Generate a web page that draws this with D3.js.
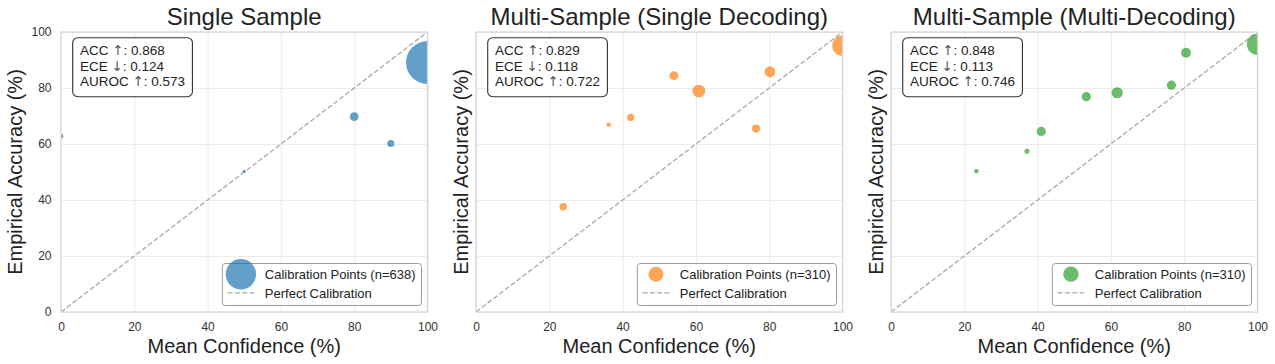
<!DOCTYPE html>
<html>
<head>
<meta charset="utf-8">
<script src="https://cdn.jsdelivr.net/npm/d3@7"></script>
<style>
  body { margin: 0; background: #fff; }
  svg { font-family: "Liberation Sans", Arial, sans-serif; }
</style>
</head>
<body>
<div id="chart"></div>
<script>
// values
const titles = ["Single Sample", "Multi-Sample (Single Decoding)", "Multi-Sample (Multi-Decoding)"];
const colors = ["#1f77b4", "#ff7f0e", "#2ca02c"];
const totals = [638, 310, 310];
const ticks = [0, 20, 40, 60, 80, 100];

const singleConf = [0, 50, 80, 90, 100];
const singleAcc = [62.8, 50.3, 69.8, 60.2, 89.1];
const singleCount = [7, 3, 24, 16, 588];

const sdConf = [23.8, 36.2, 42.2, 54.0, 60.8, 76.4, 80.2, 100];
const sdAcc = [37.6, 66.9, 69.5, 84.4, 78.9, 65.5, 85.8, 95.1];
const sdCount = [18, 6, 16, 25, 52, 21, 37, 135];

const mdConf = [23.3, 37.1, 41.0, 53.3, 61.7, 76.5, 80.5, 100];
const mdAcc = [50.3, 57.4, 64.5, 76.9, 78.3, 81.0, 92.6, 95.6];
const mdCount = [6, 8, 27, 27, 40, 27, 31, 144];

const statNames = ["ACC", "ECE", "AUROC"];
const statArrows = ["\u2191", "\u2193", "\u2191"];
const stats = [
    ["0.868", "0.124", "0.573"],
    ["0.829", "0.118", "0.722"],
    ["0.848", "0.113", "0.746"]
];

const panels = [
    { conf: singleConf, acc: singleAcc, count: singleCount },
    { conf: sdConf, acc: sdAcc, count: sdCount },
    { conf: mdConf, acc: mdAcc, count: mdCount }
];

const W = 1275, H = 364;
const plotLefts = [61, 476, 891];
const plotW = 366.5;
const plotTop = 32, plotBottom = 312;

const svg = d3.select("#chart").append("svg")
    .attr("width", W).attr("height", H);

// marker area proportional to count
const r = d3.scaleSqrt().domain([0, 600]).range([0, 21.7]);

panels.forEach((p, i) => {
    const left = plotLefts[i];
    const x = d3.scaleLinear().domain([0, 100]).range([left, left + plotW]);
    const y = d3.scaleLinear().domain([0, 100]).range([plotBottom, plotTop]);
    const g = svg.append("g");

    // grid
    g.append("g")
        .attr("transform", `translate(0,${plotBottom})`)
        .call(d3.axisBottom(x).tickValues(ticks).tickSize(-(plotBottom - plotTop)).tickFormat(""))
        .call(a => a.select(".domain").remove())
        .call(a => a.selectAll("line").attr("stroke", "#ebebeb").attr("stroke-width", 1));
    g.append("g")
        .attr("transform", `translate(${left},0)`)
        .call(d3.axisLeft(y).tickValues(ticks).tickSize(-plotW).tickFormat(""))
        .call(a => a.select(".domain").remove())
        .call(a => a.selectAll("line").attr("stroke", "#ebebeb").attr("stroke-width", 1));

    const clipId = "clip" + i;
    svg.append("clipPath").attr("id", clipId)
        .append("rect").attr("x", left).attr("y", plotTop).attr("width", plotW).attr("height", plotBottom - plotTop);

    const inner = g.append("g").attr("clip-path", `url(#${clipId})`);

    // perfect calibration diagonal
    inner.append("line")
        .attr("x1", x(0)).attr("y1", y(0)).attr("x2", x(100)).attr("y2", y(100))
        .attr("stroke", "#a8a8a8").attr("stroke-width", 1.3)
        .attr("stroke-dasharray", "5,2.3");

    inner.selectAll("circle")
        .data(p.conf.map((c, k) => ({ c: c, a: p.acc[k], n: p.count[k] })))
        .join("circle")
        .attr("cx", d => x(d.c))
        .attr("cy", d => y(d.a))
        .attr("r", d => r(d.n))
        .attr("fill", colors[i])
        .attr("fill-opacity", 0.7);

    // spines
    g.append("rect")
        .attr("x", left).attr("y", plotTop).attr("width", plotW).attr("height", plotBottom - plotTop)
        .attr("fill", "none").attr("stroke", "#d4d4d4").attr("stroke-width", 1.2);

    // tick labels
    g.append("g")
        .attr("transform", `translate(0,${plotBottom})`)
        .call(d3.axisBottom(x).tickValues(ticks).tickSize(0).tickPadding(10.5))
        .call(a => a.select(".domain").remove())
        .call(a => a.selectAll("text").attr("font-size", 12).attr("fill", "#333")
            .attr("font-family", "Liberation Sans, Arial, sans-serif"));
    if (i === 0) {
        g.append("g")
            .attr("transform", `translate(${left},0)`)
            .call(d3.axisLeft(y).tickValues(ticks).tickSize(0).tickPadding(9.5))
            .call(a => a.select(".domain").remove())
            .call(a => a.selectAll("text").attr("font-size", 12).attr("fill", "#333")
                .attr("font-family", "Liberation Sans, Arial, sans-serif"));
    }

    // title + axis labels
    g.append("text")
        .attr("x", left + plotW / 2).attr("y", 25)
        .attr("text-anchor", "middle").attr("font-size", 24).attr("fill", "#222")
        .text(titles[i]);
    g.append("text")
        .attr("x", left + plotW / 2).attr("y", 353)
        .attr("text-anchor", "middle").attr("font-size", 20).attr("fill", "#222")
        .text("Mean Confidence (%)");
    const ylx = i === 0 ? left - 39 : left - 8.4;
    g.append("text")
        .attr("transform", `translate(${ylx},${(plotTop + plotBottom) / 2}) rotate(-90)`)
        .attr("text-anchor", "middle").attr("font-size", 20).attr("fill", "#222")
        .text("Empirical Accuracy (%)");

    // stats box
    const sb = g.append("g");
    const sbRect = sb.append("rect");
    const sbText = sb.append("text").attr("font-size", 13.5).attr("fill", "#222");
    stats[i].forEach((s, k) => {
        sbText.append("tspan")
            .attr("x", left + 19).attr("y", plotTop + 23 + k * 15.5)
            .text(statNames[k] + " ");
        sbText.append("tspan")
            .attr("font-family", "DejaVu Sans").attr("fill", "#555")
            .text(statArrows[k]);
        sbText.append("tspan").text(": " + s);
    });
    const tw = sbText.node().getBBox().width;
    sbRect.attr("x", left + 11.7).attr("y", plotTop + 5.7)
        .attr("width", tw + 14.6).attr("height", 59)
        .attr("rx", 5).attr("fill", "#fff").attr("fill-opacity", 0.9)
        .attr("stroke", "#333").attr("stroke-width", 1.1);

    // legend
    const lg = g.append("g");
    const lgRect = lg.append("rect");
    const t1 = lg.append("text").attr("font-size", 13).attr("fill", "#222")
        .text(`Calibration Points (n=${totals[i]})`);
    const t2 = lg.append("text").attr("font-size", 13).attr("fill", "#222")
        .text("Perfect Calibration");
    const lw = Math.max(t1.node().getBBox().width, t2.node().getBBox().width);
    const boxW = 42.5 + lw + 6;
    const bx = left + plotW - 6 - boxW;
    const by = plotBottom - 6.5 - 42;
    lgRect.attr("x", bx).attr("y", by).attr("width", boxW).attr("height", 42)
        .attr("rx", 3).attr("fill", "#fff").attr("fill-opacity", 0.85)
        .attr("stroke", "#9a9a9a").attr("stroke-width", 1);
    t1.attr("x", bx + 42.5).attr("y", by + 10.7 + 4.6);
    t2.attr("x", bx + 42.5).attr("y", by + 29.4 + 4.6);
    const maxN = d3.max(p.count), minN = d3.min(p.count);
    const hr = Math.sqrt(0.5 * (r(maxN) ** 2 + r(minN) ** 2));
    lg.append("circle")
        .attr("cx", bx + 18.6).attr("cy", by + 10.7).attr("r", hr)
        .attr("fill", colors[i]).attr("fill-opacity", 0.7);
    lg.append("line")
        .attr("x1", bx + 5.3).attr("x2", bx + 32)
        .attr("y1", by + 29.4).attr("y2", by + 29.4)
        .attr("stroke", "#a8a8a8").attr("stroke-width", 1.3)
        .attr("stroke-dasharray", "5,2.3");
});
</script>
</body>
</html>
